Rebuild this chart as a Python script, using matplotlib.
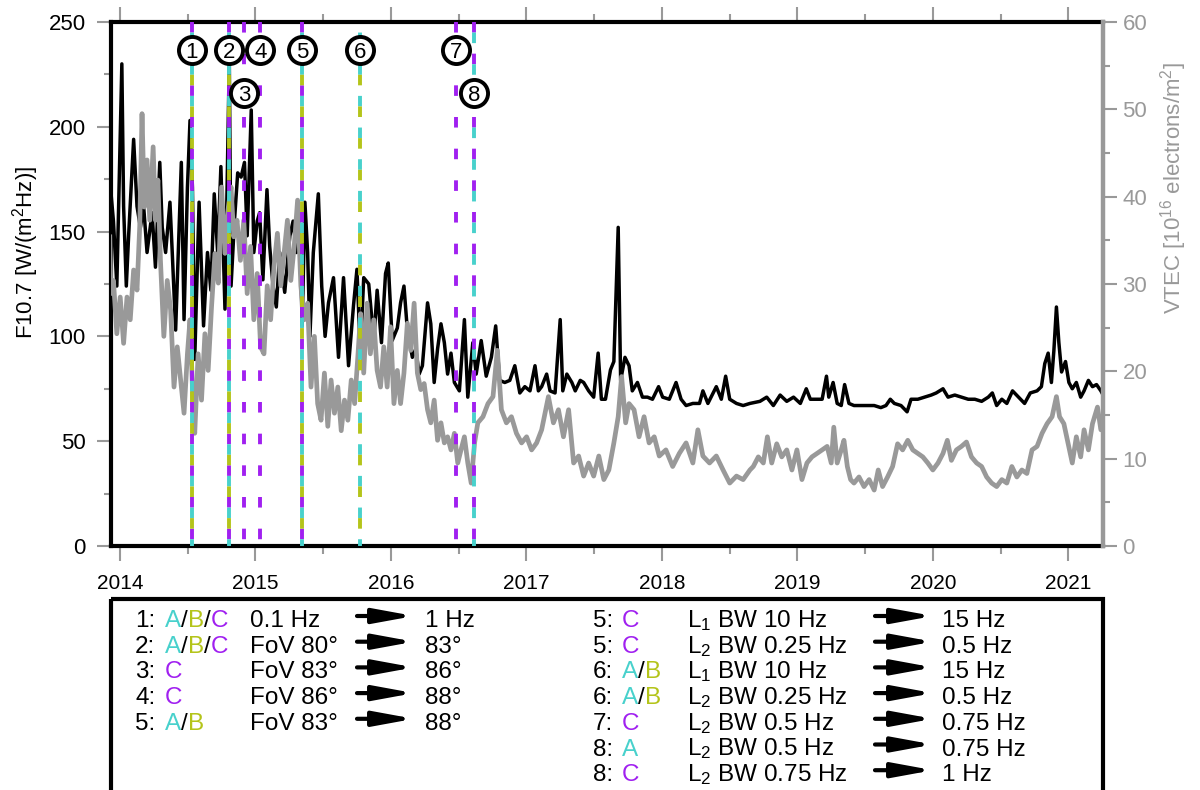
import matplotlib
matplotlib.use("Agg")
import matplotlib.pyplot as plt
from matplotlib.patches import Rectangle
from matplotlib.ticker import MultipleLocator, FuncFormatter

plt.rcParams['font.family'] = ['Liberation Sans', 'DejaVu Sans']
plt.rcParams['mathtext.fontset'] = 'custom'
plt.rcParams['mathtext.rm'] = 'Liberation Sans'
plt.rcParams['mathtext.it'] = 'Liberation Sans:italic'
plt.rcParams['lines.scale_dashes'] = False

PURPLE = '#a020f0'
CYAN = '#48d1cc'
YGREEN = '#b4c41a'
GREY = '#999999'

# F10.7 solar flux
f107_year = [
    2013.925, 2013.952, 2013.977, 2014.014, 2014.027, 2014.047, 2014.064, 2014.101,
    2014.126, 2014.151, 2014.175, 2014.200, 2014.237, 2014.262, 2014.294, 2014.312,
    2014.337, 2014.369, 2014.386, 2014.411, 2014.453, 2014.473, 2014.498, 2014.517,
    2014.535, 2014.552, 2014.584, 2014.617, 2014.646, 2014.671, 2014.696, 2014.721,
    2014.745, 2014.775, 2014.807, 2014.820, 2014.845, 2014.869, 2014.894, 2014.919,
    2014.939, 2014.969, 2014.988, 2015.013, 2015.031, 2015.055, 2015.085, 2015.105,
    2015.130, 2015.154, 2015.179, 2015.216, 2015.254, 2015.278, 2015.303, 2015.328,
    2015.345, 2015.365, 2015.385, 2015.402, 2015.427, 2015.464, 2015.489, 2015.514,
    2015.539, 2015.576, 2015.613, 2015.650, 2015.687, 2015.724, 2015.749, 2015.774,
    2015.799, 2015.836, 2015.873, 2015.898, 2015.930, 2015.960, 2015.980, 2016.009,
    2016.047, 2016.071,
    2016.096, 2016.121, 2016.158, 2016.183, 2016.208, 2016.232, 2016.270, 2016.294,
    2016.319, 2016.344, 2016.369, 2016.394, 2016.418, 2016.443, 2016.468, 2016.505,
    2016.542, 2016.567, 2016.604, 2016.629, 2016.666, 2016.703, 2016.741, 2016.773,
    2016.802, 2016.840, 2016.877, 2016.914, 2016.951, 2016.988, 2017.026, 2017.063,
    2017.088, 2017.112, 2017.149, 2017.174, 2017.211, 2017.249, 2017.268, 2017.298,
    2017.335, 2017.360, 2017.397, 2017.422, 2017.459, 2017.496, 2017.529, 2017.553,
    2017.583, 2017.620, 2017.645, 2017.677, 2017.695, 2017.727, 2017.757, 2017.781,
    2017.819, 2017.856, 2017.893, 2017.930, 2017.975, 2018.005, 2018.054, 2018.104,
    2018.141, 2018.178, 2018.228, 2018.277, 2018.302, 2018.339, 2018.401, 2018.438,
    2018.470, 2018.500, 2018.550, 2018.599, 2018.649,
    2018.723, 2018.773, 2018.822, 2018.872, 2018.921, 2018.971, 2019.021, 2019.065,
    2019.095, 2019.145, 2019.182, 2019.214, 2019.231, 2019.263, 2019.293, 2019.323,
    2019.348, 2019.380, 2019.417, 2019.467, 2019.516, 2019.566, 2019.615, 2019.653,
    2019.685, 2019.715, 2019.764, 2019.809, 2019.838, 2019.888, 2019.938, 2019.987,
    2020.024, 2020.074, 2020.111, 2020.161, 2020.210, 2020.260, 2020.309, 2020.359,
    2020.408, 2020.438, 2020.470, 2020.508, 2020.545, 2020.587, 2020.631, 2020.676,
    2020.718, 2020.768, 2020.800, 2020.825, 2020.850, 2020.874, 2020.892, 2020.911,
    2020.929, 2020.949, 2020.978, 2021.003, 2021.028, 2021.058, 2021.090, 2021.115,
    2021.147, 2021.177, 2021.207, 2021.239, 2021.264, 2021.276,
]
f107_value = [
    175, 155, 124, 230, 162, 124, 148, 194,
    162, 152, 162, 140, 159, 133, 183, 152,
    140, 164, 140, 103, 183, 108, 171, 203,
    171, 89, 164, 105, 140, 122, 168, 140,
    181, 113, 232, 124, 155, 178, 176, 183,
    148, 208, 140, 155, 159, 127, 170, 143,
    124, 114, 140, 121, 148, 155, 140, 148,
    105, 164, 140, 100, 140, 168, 124, 100,
    116, 128, 90, 128, 86, 115, 132, 92,
    128, 125, 98, 122, 97, 130, 135, 98,
    104, 116,
    124, 103, 90, 94, 82, 86, 116, 106,
    78, 94, 106, 97, 82, 92, 78, 74,
    108, 71, 97, 82, 98, 81, 90, 105,
    79, 78, 79, 86, 73, 76, 74, 86,
    74, 76, 82, 74, 73, 108, 74, 82,
    78, 74, 79, 78, 74, 71, 92, 70,
    70, 84, 88, 152, 79, 90, 86, 74,
    78, 71, 71, 70, 76, 71, 70, 78,
    70, 67, 68, 68, 74, 68, 76, 70,
    81, 70, 68, 67, 68,
    69, 71, 67, 72, 69, 71, 68, 75,
    70, 70, 70, 81, 71, 78, 68, 67,
    77, 68, 67, 67, 67, 67, 66, 67,
    70, 68, 67, 64, 70, 70, 71, 72,
    73, 75, 71, 72, 71, 70, 70, 69,
    71, 73, 67, 70, 68, 74, 71, 68,
    73, 74, 76, 87, 92, 78, 93, 114,
    97, 83, 88, 78, 75, 78, 71, 74,
    79, 76, 77, 74, 71, 75,
]

# VTEC
vtec_year = [
    2013.925, 2013.933, 2013.952, 2013.977, 2014.002, 2014.027, 2014.052, 2014.076,
    2014.101, 2014.126, 2014.146, 2014.163, 2014.180, 2014.200, 2014.220, 2014.245,
    2014.262, 2014.280, 2014.299, 2014.324, 2014.349, 2014.374, 2014.399, 2014.423,
    2014.448, 2014.473, 2014.498, 2014.517, 2014.535, 2014.552, 2014.577, 2014.602,
    2014.627, 2014.651, 2014.676, 2014.701, 2014.726, 2014.750, 2014.775, 2014.800,
    2014.820, 2014.840, 2014.864, 2014.889, 2014.914, 2014.939, 2014.964, 2014.988,
    2015.013, 2015.038, 2015.063, 2015.087, 2015.112, 2015.137, 2015.162, 2015.187,
    2015.211, 2015.236, 2015.261, 2015.286, 2015.311, 2015.335, 2015.360, 2015.385,
    2015.410, 2015.435, 2015.459, 2015.484, 2015.509, 2015.534, 2015.558, 2015.583,
    2015.608, 2015.633, 2015.657, 2015.682, 2015.707, 2015.732, 2015.757, 2015.776,
    2015.799, 2015.824, 2015.848, 2015.873, 2015.898, 2015.923, 2015.947, 2015.972,
    2015.997, 2016.022, 2016.047, 2016.071,
    2016.096, 2016.121, 2016.146, 2016.171, 2016.195, 2016.220, 2016.245, 2016.270,
    2016.294, 2016.319, 2016.344, 2016.369, 2016.394, 2016.418, 2016.443, 2016.468,
    2016.493, 2016.517, 2016.542, 2016.567, 2016.592, 2016.617, 2016.641, 2016.679,
    2016.716, 2016.753, 2016.785, 2016.815, 2016.852, 2016.889, 2016.926, 2016.964,
    2017.001, 2017.038, 2017.075, 2017.112, 2017.162, 2017.199, 2017.236, 2017.273,
    2017.311, 2017.348, 2017.385, 2017.422, 2017.459, 2017.496, 2017.534, 2017.571,
    2017.608, 2017.645, 2017.677, 2017.702, 2017.732, 2017.757, 2017.794, 2017.831,
    2017.868, 2017.905, 2017.943, 2017.980, 2018.029, 2018.079, 2018.128, 2018.178,
    2018.228, 2018.265, 2018.302, 2018.351, 2018.401, 2018.451, 2018.500, 2018.550,
    2018.599, 2018.649,
    2018.674, 2018.711, 2018.748, 2018.778, 2018.810, 2018.847, 2018.884, 2018.921,
    2018.959, 2018.996, 2019.033, 2019.070, 2019.107, 2019.145, 2019.182, 2019.219,
    2019.249, 2019.268, 2019.293, 2019.323, 2019.343, 2019.368, 2019.392, 2019.417,
    2019.454, 2019.491, 2019.529, 2019.566, 2019.596, 2019.628, 2019.665, 2019.702,
    2019.739, 2019.776, 2019.814, 2019.851, 2019.888, 2019.925, 2019.962, 2019.999,
    2020.037, 2020.074, 2020.106, 2020.136, 2020.173, 2020.210, 2020.247, 2020.284,
    2020.322, 2020.359, 2020.396, 2020.433, 2020.470, 2020.508, 2020.545, 2020.582,
    2020.619, 2020.656, 2020.693, 2020.731, 2020.768, 2020.805, 2020.842, 2020.879,
    2020.911, 2020.934, 2020.966, 2020.998, 2021.028, 2021.058, 2021.090, 2021.115,
    2021.147, 2021.177, 2021.214, 2021.239, 2021.264, 2021.281,
]
vtec_value = [
    35.4, 28.9, 30.4, 24.3, 28.5, 23.2, 28.5, 25.9,
    31.6, 29.3, 36.6, 49.5, 38.8, 44.2, 37.3, 45.7,
    37.3, 41.9, 32.7, 24.0, 30.4, 27.0, 18.2, 22.8,
    19.0, 15.2, 22.0, 25.9, 18.2, 12.9, 22.0, 16.7,
    24.3, 20.1, 27.4, 33.5, 30.1, 41.1, 33.5, 38.8,
    41.1, 35.4, 37.3, 32.7, 37.3, 28.9, 34.3, 25.9,
    31.2, 22.8, 22.0, 29.8, 25.9, 32.0, 35.8, 29.8,
    33.5, 37.3, 30.4, 34.3, 39.6, 29.8, 25.9, 27.8,
    18.2, 24.0, 16.3, 14.4, 19.8, 13.7, 19.0, 15.2,
    18.2, 13.2, 16.7, 14.4, 19.0, 16.3, 22.0, 26.6,
    19.8, 27.8, 22.0, 25.9, 20.1, 18.2, 22.8, 18.2,
    25.1, 16.3, 20.1, 16.3,
    19.8, 25.5, 22.4, 27.8, 19.8, 17.9, 18.6, 15.6,
    14.1, 16.7, 12.1, 14.1, 11.8, 12.5, 11.0, 12.9,
    9.5, 11.0, 12.5, 9.5, 7.2, 11.8, 14.1, 14.8,
    16.3, 17.1, 22.4, 15.6, 14.1, 14.8, 12.9, 11.8,
    12.5, 11.0, 11.8, 13.3, 17.1, 14.1, 15.6, 12.5,
    15.6, 9.5, 10.3, 8.0, 9.5, 8.0, 10.3, 7.6,
    8.7, 11.8, 14.8, 19.4, 14.1, 16.3, 15.6, 12.5,
    14.8, 11.8, 12.5, 10.3, 11.0, 9.1, 10.6, 11.8,
    9.5, 13.3, 10.3, 9.5, 10.3, 8.7, 7.2, 8.0,
    7.6, 8.7,
    9.1, 10.2, 9.5, 12.5, 9.5, 11.7, 10.2, 11.0,
    8.7, 11.0, 7.6, 9.5, 10.2, 10.6, 11.0, 11.4,
    9.5, 13.6, 9.5, 11.0, 12.1, 9.1, 7.6, 7.2,
    7.9, 6.8, 7.6, 6.4, 8.7, 6.8, 7.9, 9.1,
    11.7, 11.0, 12.1, 11.0, 10.6, 10.2, 9.5, 8.7,
    9.5, 10.6, 12.1, 9.8, 11.0, 11.4, 11.9, 10.2,
    9.5, 9.1, 7.9, 7.2, 6.8, 7.6, 7.2, 9.1,
    7.9, 8.7, 8.3, 11.0, 11.4, 12.9, 14.0, 14.8,
    17.1, 14.8, 14.0, 11.7, 9.5, 12.5, 10.2, 13.3,
    11.0, 14.0, 15.9, 13.3, 14.0, 10.6,
]

# configuration changes (vertical marker lines)
event_year = [2014.530, 2014.807, 2014.919, 2015.036, 2015.345, 2015.774, 2016.480, 2016.612]
event_label = ['1', '2', '3', '4', '5', '6', '7', '8']
event_row = [0, 0, 1, 0, 0, 0, 0, 1]
event_colors = [
    [PURPLE, CYAN, YGREEN],
    [PURPLE, CYAN, YGREEN],
    [PURPLE],
    [PURPLE],
    [PURPLE, CYAN, YGREEN],
    [CYAN, YGREEN],
    [PURPLE],
    [PURPLE, CYAN],
]

# legend table
leg_num = ['1:', '2:', '3:', '4:', '5:',
           '5:', '5:', '6:', '6:', '7:', '8:', '8:']
leg_rx = ['A/B/C', 'A/B/C', 'C', 'C', 'A/B',
          'C', 'C', 'A/B', 'A/B', 'C', 'A', 'C']
leg_from = ['0.1 Hz', 'FoV 80°', 'FoV 83°', 'FoV 86°', 'FoV 83°',
            'L$_1$ BW 10 Hz', 'L$_2$ BW 0.25 Hz', 'L$_1$ BW 10 Hz', 'L$_2$ BW 0.25 Hz',
            'L$_2$ BW 0.5 Hz', 'L$_2$ BW 0.5 Hz', 'L$_2$ BW 0.75 Hz']
leg_to = ['1 Hz', '83°', '86°', '88°', '88°',
          '15 Hz', '0.5 Hz', '15 Hz', '0.5 Hz', '0.75 Hz', '0.75 Hz', '1 Hz']
leg_col = [0, 0, 0, 0, 0, 1, 1, 1, 1, 1, 1, 1]

rx_color = {'A': CYAN, 'B': YGREEN, 'C': PURPLE, '/': 'black'}
slot_of = {PURPLE: 0, CYAN: 1, YGREEN: 2}

fig = plt.figure(figsize=(12, 7.9), dpi=100)
ax = fig.add_axes([0.0925, 0.3089, 0.8267, 0.6633])
ax2 = ax.twinx()

ax.plot(f107_year, f107_value, color='black', lw=2.5, zorder=2)
ax2.plot(vtec_year, vtec_value, color=GREY, lw=3.4, zorder=2)

# multi-coloured dashed lines: 3 slots per period, one colour per slot
slot = 7.6
for x, cols in zip(event_year, event_colors):
    for c in cols:
        k = slot_of[c]
        off = (3 * slot - k * slot) % (3 * slot)
        ax2.plot([x, x], [1, 0], transform=ax2.get_xaxis_transform(),
                 color=c, lw=2.8, linestyle=(off, (slot, 2 * slot)), zorder=4)

row_y = [0.9465, 0.8635]
for x, lab, r in zip(event_year, event_label, event_row):
    ax2.plot([x], [row_y[r]], marker='o', ms=19.5, mfc='white', mec='black', mew=2.8,
             transform=ax2.get_xaxis_transform(), zorder=6, clip_on=False)
    ax2.text(x, row_y[r], lab, transform=ax2.get_xaxis_transform(), ha='center',
             va='center_baseline', fontsize=16, zorder=7)

ax.set_xlim(2013.934, 2021.255)
ax.set_ylim(0, 250)
ax2.set_ylim(0, 60)

ax.xaxis.set_major_locator(MultipleLocator(1))
ax.xaxis.set_minor_locator(MultipleLocator(0.5))
ax.xaxis.set_major_formatter(FuncFormatter(lambda v, p: '%d' % round(v)))
ax.yaxis.set_major_locator(MultipleLocator(50))
ax.yaxis.set_minor_locator(MultipleLocator(25))
ax2.yaxis.set_major_locator(MultipleLocator(10))
ax2.yaxis.set_minor_locator(MultipleLocator(5))

ax.tick_params(axis='x', which='both', top=True, bottom=True, direction='out',
               color=GREY, width=1.5, labelsize=15, pad=9)
ax.tick_params(axis='x', which='major', length=11)
ax.tick_params(axis='x', which='minor', length=6)
ax.tick_params(axis='y', which='both', direction='out', color=GREY, width=1.5,
               labelsize=16, pad=8)
ax.tick_params(axis='y', which='major', length=10)
ax.tick_params(axis='y', which='minor', length=5)
ax2.tick_params(axis='y', which='both', direction='out', color=GREY, width=1.5,
                labelsize=16, labelcolor=GREY, pad=4)
ax2.tick_params(axis='y', which='major', length=10)
ax2.tick_params(axis='y', which='minor', length=5)

for s in ['left', 'top', 'bottom']:
    ax.spines[s].set_linewidth(3)
    ax.spines[s].set_color('black')
    ax2.spines[s].set_visible(False)
ax.spines['right'].set_visible(False)
ax2.spines['right'].set_linewidth(3.2)
ax2.spines['right'].set_color(GREY)

# overlay in pixel coordinates for labels and the legend box
lax = fig.add_axes([0, 0, 1, 1], zorder=10)
lax.set_xlim(0, 1200)
lax.set_ylim(790, 0)
lax.axis('off')

lax.text(26, 252, 'F10.7 [W/(m$^2$Hz)]', rotation=90, ha='center', va='center', fontsize=16)
lax.text(1174, 188, 'VTEC [10$^{16}$ electrons/m$^2$]', rotation=90, ha='center',
         va='center', fontsize=16, color=GREY)

lax.add_patch(Rectangle((111, 599), 992, 260, fill=False, lw=3, ec='black', clip_on=False))

renderer = fig.canvas.get_renderer()
FS = 17.5
col_x = [dict(num=135, rx=165, desc=250, a0=357, a1=414, to=425),
         dict(num=593, rx=622, desc=687, a0=875, a1=933, to=942)]
row_count = [0, 0]
for num, rx, fr, to, col in zip(leg_num, leg_rx, leg_from, leg_to, leg_col):
    cx = col_x[col]
    yb = 627 + 25.7 * row_count[col]
    yc = yb - 11
    row_count[col] += 1
    lax.text(cx['num'], yb, num, fontsize=FS, va='baseline')
    x = cx['rx']
    for ch in rx:
        t = lax.text(x, yb, ch, fontsize=FS, va='baseline', color=rx_color[ch])
        x += t.get_window_extent(renderer=renderer).width
    lax.text(cx['desc'], yb, fr, fontsize=FS, va='baseline')
    lax.annotate('', xy=(cx['a1'], yc), xytext=(cx['a0'], yc),
                 arrowprops=dict(arrowstyle='-|>,head_length=1.2,head_width=0.22',
                                 lw=3.0, color='black', mutation_scale=20,
                                 shrinkA=0, shrinkB=0))
    lax.text(cx['to'], yb, to, fontsize=FS, va='baseline')

fig.savefig('out.png', dpi=100)
